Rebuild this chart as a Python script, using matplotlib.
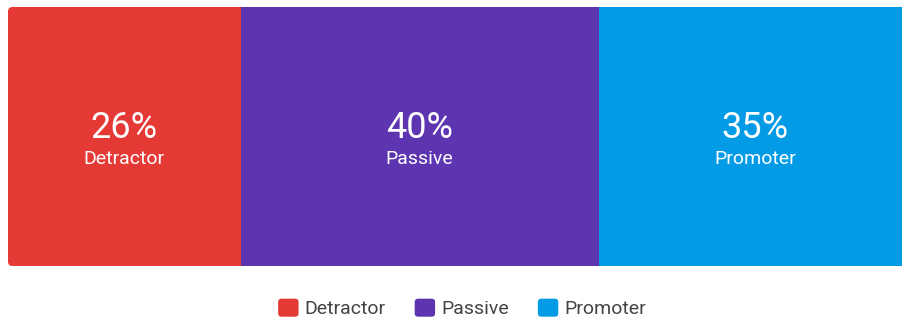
import matplotlib.pyplot as plt
from matplotlib.patches import Patch, FancyBboxPatch
from matplotlib.legend_handler import HandlerPatch

plt.rcParams['font.family'] = ['Roboto', 'DejaVu Sans']

categories = ['Detractor', 'Passive', 'Promoter']
shares = [26, 40, 35]
colors = ['#E53935', '#5E35B1', '#039BE5']

W, H = 902, 319
fig = plt.figure(figsize=(W / 100, H / 100), dpi=100)

# bar area: x from 8px, y 7..266px; scale runs 0..100 over 895px (last segment spills off)
ax = fig.add_axes([8 / W, (H - 266) / H, 895 / W, 259 / H])
ax.set_xlim(0, 100)
ax.set_ylim(0, 1)
ax.axis('off')

# rounded left corners only (right end runs off the canvas)
clip = FancyBboxPatch((0, 0), 1.1, 1, boxstyle='round,pad=0,rounding_size=0.005',
                      transform=ax.transAxes, facecolor='none', edgecolor='none',
                      mutation_aspect=895 / 259)
ax.add_patch(clip)

left = 0
for cat, val, col in zip(categories, shares, colors):
    bars = ax.barh(0.5, val, height=1, left=left, color=col, linewidth=0)
    for b in bars:
        b.set_clip_path(clip)
    cx = left + val / 2
    ax.text(cx, (266 - 138) / 259, f'{val:.0f}%', color='white', fontsize=26,
            ha='center', va='baseline')
    ax.text(cx, (266 - 164) / 259, cat, color='white', fontsize=14,
            ha='center', va='baseline')
    left += val


class RoundSquare(HandlerPatch):
    def create_artists(self, legend, orig_handle, xdescent, ydescent,
                       width, height, fontsize, trans):
        p = FancyBboxPatch((-xdescent, -ydescent), width, height,
                           boxstyle='round,pad=0,rounding_size=2.5',
                           facecolor=orig_handle.get_facecolor(), edgecolor='none',
                           transform=trans)
        return [p]


handles = [Patch(facecolor=c, edgecolor='none') for c in colors]
fig.legend(handles, categories, loc='center',
           bbox_to_anchor=((461 + 1) / W, (H - 308.5) / H),
           ncol=3, frameon=False, fontsize=14, handlelength=1.05, handleheight=1.05,
           handletextpad=0.3, columnspacing=1.5, labelcolor='#444444',
           handler_map={Patch: RoundSquare()})

fig.savefig('out.png', dpi=100)
